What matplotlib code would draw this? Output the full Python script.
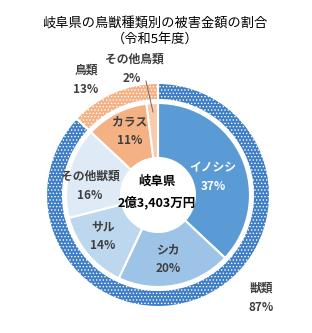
import matplotlib.pyplot as plt

plt.rcParams['font.family'] = ['Noto Sans CJK JP', 'DejaVu Sans']
plt.rcParams['hatch.linewidth'] = 0.6

# data
inner_labels = ['イノシシ', 'シカ', 'サル', 'その他獣類', 'カラス', 'その他鳥類']
inner_pct = [37, 20, 14, 16, 11, 2]
inner_colors = ['#5B9BD5', '#9DC3E6', '#BDD7EE', '#DEEBF7', '#F4B183', '#F8CBAD']
outer_labels = ['獣類', '鳥類']
outer_pct = [87, 13]
outer_colors = ['#3F7EC6', '#F4B183']
total_text = '岐阜県\n2億3,403万円'

fig = plt.figure(figsize=(3.12, 3.33), dpi=100)
ax = fig.add_axes([0, 0, 1, 1])

R = 112      # outer ring radius (px)
ring_w = 17
r_in = 92    # inner pie radius
r_hole = 37

ax.pie(outer_pct, radius=R, startangle=90, counterclock=False,
       colors=outer_colors, hatch='.....',
       wedgeprops=dict(width=ring_w, edgecolor='white', linewidth=1.5))
ax.pie(inner_pct, radius=r_in, startangle=90, counterclock=False,
       colors=inner_colors,
       wedgeprops=dict(width=r_in - r_hole, edgecolor='white', linewidth=1.5))

# convert pixel position (from top-left) to data coords, centre at (158, 195)
def px(x, y):
    return x - 158, 195 - y

lab_color = '#404040'
# inner labels (pixel positions of label text)
inner_pos = [(213, 177), (168, 259), (103, 236), (90, 186), (130, 131)]
for i, (x, y) in enumerate(inner_pos):
    c = 'white' if i == 0 else lab_color
    ax.text(*px(x, y), f'{inner_labels[i]}\n{inner_pct[i]}%', ha='center', va='center',
            fontsize=8.5, fontweight='bold', color=c, linespacing=1.6)

# small wedge label with leader line
ax.text(*px(134, 59), inner_labels[5], ha='center', va='center', fontsize=8.5,
        fontweight='bold', color=lab_color)
ax.text(*px(132, 79), f'{inner_pct[5]}%', ha='center', va='center', fontsize=8.5,
        fontweight='bold', color=lab_color)
ax.plot(*zip(px(146, 81), px(153, 112)), color='#7f6060', lw=0.7)

# outer labels
outer_pos = [(261, 298), (86, 80)]
for i, (x, y) in enumerate(outer_pos):
    ax.text(*px(x, y), f'{outer_labels[i]}\n{outer_pct[i]}%', ha='center', va='center',
            fontsize=8.5, fontweight='bold', color=lab_color, linespacing=1.6)

ax.text(*px(157, 192), total_text, ha='center', va='center', fontsize=9,
        fontweight='bold', color='black', linespacing=1.7)

ax.text(*px(155, 32), '岐阜県の鳥獣種類別の被害金額の割合\n（令和5年度）', ha='center',
        va='center', fontsize=9.5, color='black', linespacing=1.2)

ax.set_xlim(-158, 154)
ax.set_ylim(-138, 195)
ax.axis('off')

fig.savefig('out.png', dpi=100)
